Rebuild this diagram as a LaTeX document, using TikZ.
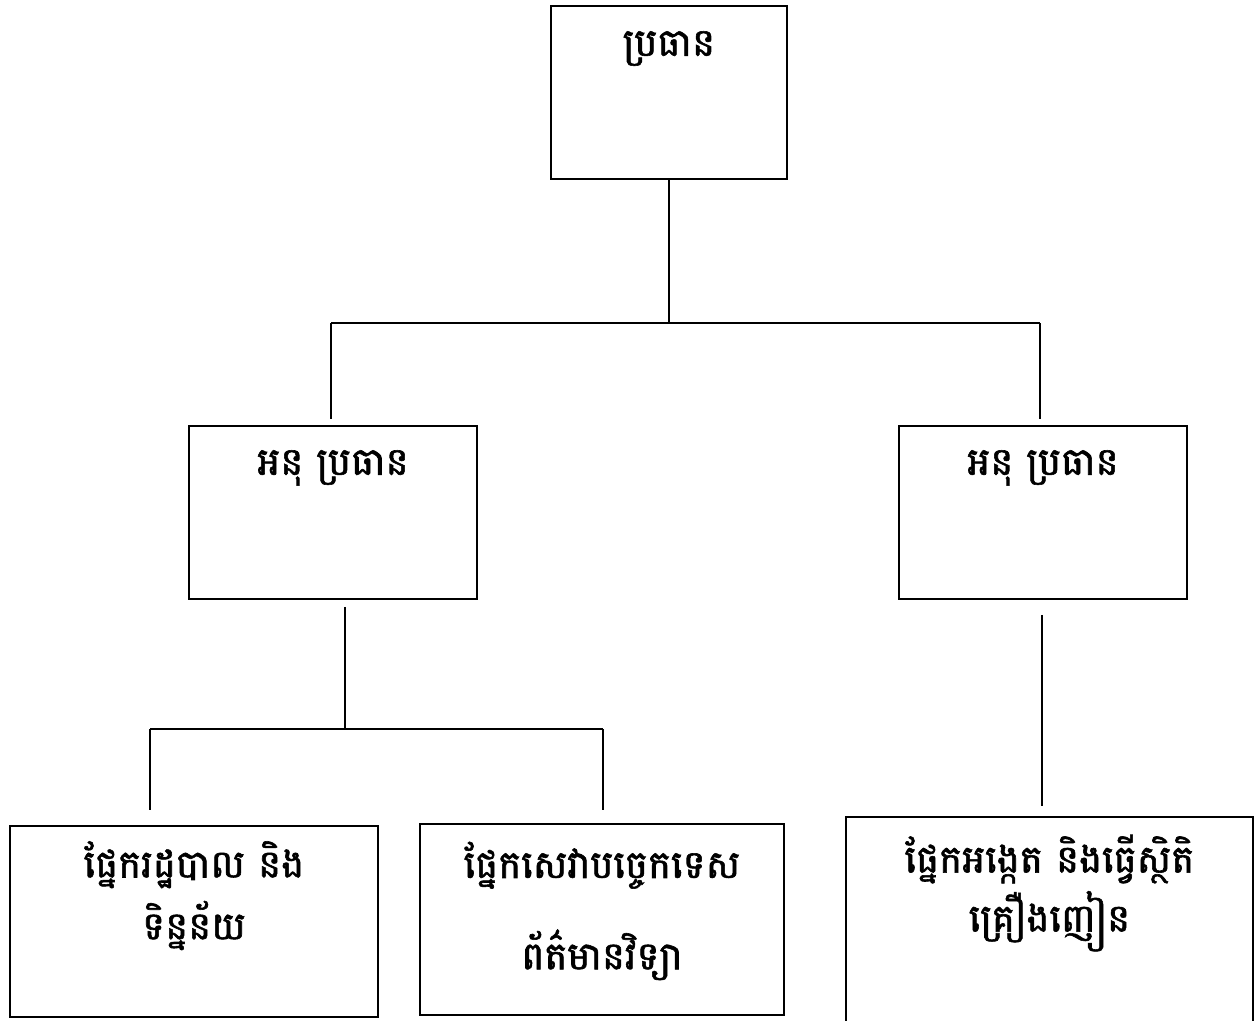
\documentclass[tikz,border=0pt]{standalone}
\usepackage{fontspec}
\newfontfamily\khmerfont[Script=Khmer, FakeBold=1.5]{Battambang}
\usepackage{tikz}
\usetikzlibrary{positioning}
\tikzstyle{unitbox} = [rectangle, draw=black, line width=1.1pt, minimum width=5.76cm, minimum height=3.46cm]
\tikzstyle{boxtext} = [anchor=north, align=center, font=\khmerfont\fontsize{22}{25}\selectfont]
\tikzstyle{conn} = [line width=1.1pt]

\begin{document}
\begin{tikzpicture}
    \useasboundingbox (0,0) rectangle (25.18,-20.4);

    \node (pres) [unitbox, minimum width=4.72cm] at (13.38,-1.85) {};
    \node (vpl) [unitbox] at (6.66,-10.25) {};
    \node (vpr) [unitbox] at (20.86,-10.25) {};
    \node (admin) [unitbox, minimum width=7.36cm, minimum height=3.82cm] at (3.88,-18.43) {};
    \node (tech) [unitbox, minimum width=7.28cm, minimum height=3.82cm] at (12.04,-18.39) {};
    \node (survey) [unitbox, minimum width=8.14cm, minimum height=4.14cm] at (20.99,-18.41) {};

    \node (presT) [boxtext, below=0.4cm of pres.north] {ប្រធាន};
    \node (vplT) [boxtext, below=0.38cm of vpl.north] {អនុ ប្រធាន};
    \node (vprT) [boxtext, below=0.38cm of vpr.north] {អនុ ប្រធាន};
    \node (adminT) [boxtext, below=0.2cm of admin.north] {ផ្នែករដ្ឋបាល និង\\[0.22cm]ទិន្នន័យ};
    \node (techT) [boxtext, below=0.25cm of tech.north] {ផ្នែកសេវាបច្ចេកទេស\\[0.78cm]ព័ត៌មានវិទ្យា};
    \node (surveyT) [boxtext, below=0.25cm of survey.north] {ផ្នែកអង្កេត និងធ្វើស្ថិតិ\\[0.12cm]គ្រឿងញៀន};

    \coordinate (j1) at (13.38,-6.46);
    \coordinate (j1l) at (6.62,-6.46);
    \coordinate (j1r) at (20.8,-6.46);
    \coordinate (j2) at (6.9,-14.58);
    \coordinate (j2l) at (3.0,-14.58);
    \coordinate (j2r) at (12.06,-14.58);
    \coordinate (j3) at (20.84,-12.28);

    \draw[conn] (pres) -- (j1);
    \draw[conn] (j1l) -- (j1r);
    \draw[conn, shorten >=0.12cm] (j1l) -- (j1l |- vpl.north);
    \draw[conn, shorten >=0.12cm] (j1r) -- (j1r |- vpr.north);

    \draw[conn, shorten <=0.14cm] (j2 |- vpl.south) -- (j2);
    \draw[conn] (j2l) -- (j2r);
    \draw[conn, shorten >=0.3cm] (j2l) -- (j2l |- admin.north);
    \draw[conn, shorten >=0.26cm] (j2r) -- (j2r |- tech.north);

    \draw[conn, shorten <=0.3cm, shorten >=0.2cm] (j3 |- vpr.south) -- (j3 |- survey.north);

\end{tikzpicture}
\end{document}
